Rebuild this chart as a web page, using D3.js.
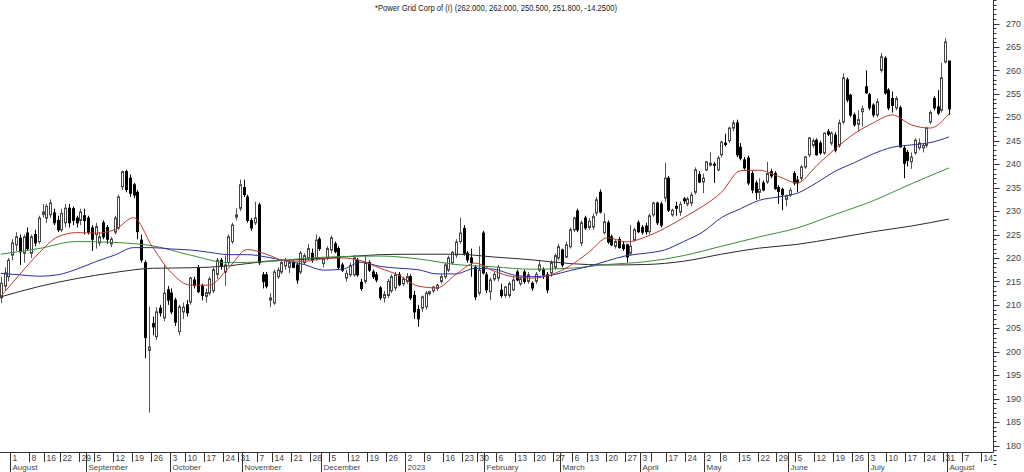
<!DOCTYPE html>
<html>
<head>
<meta charset="utf-8">
<script src="https://cdn.jsdelivr.net/npm/d3@7"></script>
<style>
  body { margin: 0; background: #fff; }
  svg { display: block; font-family: "Liberation Sans", Arial, sans-serif; }
</style>
</head>
<body>
<div id="chart"></div>
<script>
// trading calendar (NSE), weekends and these dates are skipped
var holidays = ["2022-08-09","2022-08-15","2022-08-31","2022-10-05","2022-10-26","2022-11-08",
  "2023-01-26","2023-03-07","2023-03-30","2023-04-04","2023-04-07","2023-04-14","2023-05-01",
  "2023-06-29","2023-08-15"];
var firstDay = "2022-07-27", lastDay = "2023-08-17";

var title = "*Power Grid Corp of (I) (262.000, 262.000, 250.500, 251.800, -14.2500)";
var monthNames = ["January","February","March","April","May","June","July","August","September","October","November","December"];
var hiddenWeekLabels = ["2023-04-10"];

// daily candles [open, high, low, close]
var ohlc = [
  [211.5,216,210.4,214.6],[214,218,213,216.8],[216,220,215,219.5],[220.6,224,219.5,223.2],[222.8,225.5,221.5,224.5],
  [224.2,225,218.5,221.3],[221,225,219,224.5],[225.3,226.5,221.5,222],[221,225,220,224.5],[225,226,222.5,223.2],
  [223.5,229,223,228.5],[229.3,231.5,228.6,229.8],[228.5,231.5,227.5,231],[229.2,232.5,228.5,231.7],[229.6,230.5,227,227.5],
  [228,229,225.5,226],[226,230.5,225.5,229.5],[227.5,231.5,226.5,230.6],[230.6,231.5,226.5,227.5],[230.5,231,227,228],
  [228.5,229,226.5,227.5],[228,230.5,227,229.8],[229,230.5,225,228],[228.5,229,225,225.5],[226.4,227,221.5,224],
  [225,227.5,222,226.7],[223.2,225.5,222.5,224.5],[227.5,228,224,224.5],[226.5,227,223,224],[223,224.5,222.3,224],
  [225.5,229,225,228.5],[226.4,233.5,226,233],[235.2,238.6,234.5,238.4],[238.4,238.8,234,234.6],[237,237.8,233,233.8],
  [235.6,236,232.8,233.4],[234,234.5,224,225.6],[223.8,225,219,219.6],[219,219.5,198.6,203],[200.3,209.6,187,201],
  [206,207.5,203.5,205.3],[203.2,209.5,202.5,208.5],[209.3,210,207.5,208.3],[207.2,218.5,206.5,212.5],[213.2,214,210,211],
  [212.5,213.5,208,208.5],[211,211.5,205.5,206.3],[204.3,210,203.5,209.6],[208.5,210.5,207,209.5],[210,211,207.5,208.3],
  [210.6,216,210,215.7],[215.3,216,213.5,214.2],[217.8,218.5,212.5,212.8],[214,214.5,211,212],[211.8,213.5,210.5,212.6],
  [212.5,216,212,215.5],[213,218,212.5,217.5],[216.5,220,215.5,219.5],[219.5,220,217.5,218.2],[217,220.5,214,218.5],
  [219,225,218.5,224.5],[223.5,227.5,223,227],[228.7,230.6,228,229.2],[230.6,236.7,230,235.6],[235,236.7,233,233.5],
  [233,233.5,227.5,228],[228,228.5,225.8,226.4],[227.5,232,227,228.5],[231.3,231.8,218.5,219],[216.4,217,213.5,215],
  [216.4,217,213.5,214],[211,212.5,209.5,211.5],[210.4,217.5,210,217],[216,218,215.5,217.4],[217,219.5,216.5,219],
  [218.3,220,217.5,219.5],[218,219.5,216.8,219],[219,219.5,217.8,218],[218.5,219,214.5,215.3],[217,221.5,216.5,221],
  [219,221,218.5,220.5],[220,223,219.5,222],[221,222,219,219.6],[220,225,219.5,223.8],[224,224.5,221.5,222],
  [218.8,220,218,219.8],[220,222.5,219.5,222],[221.7,224.8,221,224.3],[223,223.5,221,221.4],[222,222.5,217.5,218],
  [218.5,219,217,217.4],[215.7,217.5,215,216.7],[216.4,219,216,218.4],[216.4,220.6,216,220],[219.5,220,216,216.4],
  [214.8,215.5,213,213.5],[215,220.5,214.5,219],[219,219.5,217,217.4],[217,217.5,215.5,216],[216.4,217,214.8,215.3],
  [213.6,214,211,211.5],[211.5,213,210.5,212.2],[212,215.5,211.5,215],[213,216.5,212.5,216],[213.6,217,213,216.4],
  [216.4,217,214,214.3],[214.5,216,214,215.5],[215,216.8,214.5,216],[216,216.5,211,211.5],[212,213,207,208.5],
  [209,210,205.3,207],[209.3,212,208.5,211.7],[209.6,213,209,212.5],[212.4,213,212,212.8],[213,214,212.5,213.8],
  [213.5,214.5,213,214.2],[215,216.5,214.5,216],[216,219,215.5,218.5],[217.4,220.5,217,220],[219,221.5,218.5,221.2],
  [220.6,224,220,223.4],[223.5,228.6,223,225.3],[226.3,227,220.5,221],[221,221.5,219,219.6],[220,222,216,219],
  [218,218.5,211,211.7],[212.5,222.5,212,217.4],[225.3,225.8,216.5,216.8],[216.4,217,212.5,213.2],[212.8,215.8,211,215.3],
  [215.5,217,215,216.5],[215.7,218.5,215,218],[213.1,214.5,211.5,212],[212,214,211.5,213.8],[212,215,211.5,214.5],
  [213.2,216,213,215.3],[217,217.5,215,215.3],[214.5,216,214,215.5],[217,217.5,214.5,215],[215,217,214.5,216.4],
  [214.6,215,213,213.6],[215,217,214.5,216.5],[217.4,219.5,217,218.5],[217.5,218,215.5,216.4],[216.4,217,212.5,213.2],
  [216.8,219.5,216,219],[218,221,217.5,220.5],[220,223,219.5,222.4],[221.7,222,218,218.5],[220.2,223.5,220,222.8],
  [222.4,226.5,222,226],[226,228.8,225.5,228.5],[230,230.5,225.5,226],[223.2,228,222.5,227.5],[228.5,229,226,226.4],
  [226.5,228.5,226,227.8],[226.6,229.5,226,228.8],[229.6,233,229,232.4],[234,234.6,229.5,229.8],[225.4,229.5,225,227.7],
  [227.5,228,223,223.4],[224.5,225,222.5,222.8],[222.5,224,222,223.5],[223.9,224.5,222,222.2],[222.8,223.5,221.5,222],
  [222.8,223,219,220.2],[221,227,220.5,222.5],[223.8,226.5,223.5,226],[227.5,228,225.3,225.6],[226.5,227,225,225.5],
  [226.8,227.5,225,225.6],[225.6,229.5,225,229],[229.2,232,228.8,231.7],[231.7,232,227,227.5],[231.5,232,226.5,227],
  [232.8,240.3,232,237],[237,237.5,229.8,230.2],[229.2,230.5,228.8,230.2],[231,232,229,230.6],[229.8,232,229,231.4],
  [232.6,233,231.5,232.2],[231.5,233,231,232.6],[231.7,234,231,233.4],[234,239.3,233.5,238.8],[237.8,238.5,236,236.2],
  [236.2,238,233.8,237],[238.8,240.5,238.5,240.5],[239.8,242.5,239.5,240.2],[240,240.5,236,239.8],[238.8,241.8,238.5,241.3],
  [242,245,241.5,244.7],[244.5,246.5,243.8,244.2],[245,248,244.5,247.7],[247.7,249.4,247,248.8],[248.8,249.5,241.5,242],
  [243.6,244.5,240.8,241.3],[240.9,241.5,238.8,239.2],[241.3,241.8,235.5,236],[238,238.5,233.8,234.5],[236,236.5,232.4,234],
  [234,237,232.5,234.6],[236,236.5,234.2,234.5],[236.2,240.5,235.8,238],[238.4,239,237,237.5],[238,238.5,234.5,234.8],
  [235,235.5,231.5,234.2],[234.6,235,230.2,233.5],[232.5,233.5,231,233.2],[233.5,235,233,234.4],[238,238.5,235.5,236],
  [236.6,237.5,234,236],[237,239.8,236.5,239.4],[239.4,241.8,239,241.5],[242,245.8,241.5,245.6],[244,245.5,243.5,245],
  [245.1,245.5,241.8,242],[244.5,245,242,242.4],[242.4,246.8,242,246.6],[246.9,247.5,246,246.4],[244.5,247,244,246.6],
  [246.2,246.8,242.5,243],[244,249.5,243.5,248.8],[249,259.4,248.5,258.4],[258,258.5,253.2,253.7],[254.7,255,250,250.5],
  [250.5,251,248,248.4],[248.5,251.5,247,249.5],[251.2,252.5,248,251.8],[256.5,260,255,255.2],[254.8,255.2,251.5,252],
  [252.6,253,250,250.5],[250.5,254,250,253.3],[260,263.7,259.5,262.9],[262.6,263,254.8,255.2],[255.8,256.2,251.5,252],
  [254,255.5,251,252.5],[252,254.5,251.5,254],[252,252.5,243.5,243.7],[243.4,244,237,240.2],[242.5,243,239.5,240.8],
  [240.5,242.5,239,241.5],[242.4,245.5,242,245.1],[243.5,245.5,243,244.5],[243.5,244.5,242.5,244],[244,248,243.5,247.7],
  [249,251.5,248.5,251],[254,254.5,251.5,252],[252.2,255.8,250.5,250.9],[251.5,261.6,251,258.4],[261.8,266.9,261.5,266.05],
  [262,262,250.5,251.8]
];

// moving averages, one value every 5 (red, blue) or 10 (green, black) sessions
var maRed = [211.8,216.5,221,224.5,225.4,225.3,226,228.6,222.3,216.8,214.2,214.2,217.8,221.8,220.8,219.4,219.3,
  219.8,220,219.4,217.8,216.3,214,213.6,216.5,218.9,217.2,216,215.7,216.4,218.3,221.2,224.3,223.4,224.5,226.3,
  228.6,231,234,238.6,238.7,237.4,236,239.6,243.3,246.5,248.8,250.5,248.4,247.7,250.8];
var maBlue = [216.7,216.4,216.1,216.4,217.6,219.2,220.6,222.2,222.2,221.9,221.7,221.2,220.7,220.7,220.2,219.4,
  218.6,217.4,217.6,219.1,218.2,217.8,217.5,216.6,216.6,217.8,217.6,216.4,216,216.3,217.3,218.2,219.4,220.5,221,
  221.7,223.5,225.5,228.6,230.5,232.3,233,233.8,236,238.5,240.3,242.2,243.6,244.1,244.6,245.8];
var maGreen = [220.8,222,223.5,223.3,222.6,220.6,219,219.2,219.9,220.3,220.4,219.8,218.6,218.1,217.6,217.8,218.6,
  219.2,220.5,222.5,224.5,226.4,229.3,232.2,235.8,239.2];
var maBlack = [211.7,213.9,215.6,216.9,217.8,217.9,218.3,219.3,219.7,220.2,220.7,220.8,220.8,220.2,219.6,218.8,
  218.5,218.6,219.3,220.8,222.1,222.9,224.2,225.6,226.8,228.3];
var yTicks = d3.range(180, 271, 5);

var width = 1024, height = 472;
var axisX = 993.5, axisY = 452.5;

var parse = d3.timeParse("%Y-%m-%d"), fmt = d3.timeFormat("%Y-%m-%d");
var days = d3.timeDay.range(parse(firstDay), d3.timeDay.offset(parse(lastDay), 1))
  .filter(function(d) { return d.getDay() > 0 && d.getDay() < 6 && holidays.indexOf(fmt(d)) < 0; });

var svg = d3.select("#chart").append("svg")
  .attr("width", width).attr("height", height);

var x = d3.scaleBand()
  .domain(d3.range(days.length))
  .range([-1.1, axisX - 0.8])
  .padding(0);
var y = d3.scaleLinear().domain([180, 270]).range([445.5, 23.5]);
function cx(i) { return Math.round(x(i) + x.bandwidth() / 2); }

// title
svg.append("text")
  .attr("x", 496).attr("y", 11)
  .attr("text-anchor", "middle")
  .attr("textLength", 242).attr("lengthAdjust", "spacingAndGlyphs")
  .style("font-size", "9px").style("fill", "#222")
  .text(title);

// price axis on the right
var yAxis = svg.append("g");
yAxis.append("line")
  .attr("x1", axisX).attr("x2", axisX).attr("y1", 0).attr("y2", axisY)
  .attr("stroke", "#333");
yAxis.selectAll(".minor")
  .data(d3.range(176, 276, 1))
  .enter().append("line")
  .attr("x1", axisX).attr("x2", axisX + 3)
  .attr("y1", function(d) { return Math.round(y(d)) + 0.5; })
  .attr("y2", function(d) { return Math.round(y(d)) + 0.5; })
  .attr("stroke", "#333");
yAxis.selectAll(".major")
  .data(yTicks)
  .enter().append("line")
  .attr("x1", axisX).attr("x2", axisX + 6)
  .attr("y1", function(d) { return Math.round(y(d)) + 0.5; })
  .attr("y2", function(d) { return Math.round(y(d)) + 0.5; })
  .attr("stroke", "#333");
yAxis.selectAll("text")
  .data(yTicks)
  .enter().append("text")
  .attr("x", 1006).attr("y", function(d) { return y(d); })
  .attr("dy", "0.35em")
  .style("font-size", "9px").style("fill", "#444")
  .text(function(d) { return d; });

// date axis at the bottom
var xAxis = svg.append("g");
xAxis.append("line")
  .attr("x1", 0).attr("x2", axisX).attr("y1", axisY).attr("y2", axisY)
  .attr("stroke", "#333");

var weekStarts = [], monthStarts = [];
days.forEach(function(d, i) {
  if (i === 0) return;
  var p = days[i - 1];
  if (+d3.timeMonday.floor(d) !== +d3.timeMonday.floor(p)) weekStarts.push(i);
  if (d.getMonth() !== p.getMonth()) monthStarts.push(i);
});
function sepX(i) { return Math.round(x(i)) + 0.5; }

var wk = xAxis.selectAll(".wk").data(weekStarts).enter().append("g");
wk.append("line")
  .attr("x1", sepX).attr("x2", sepX).attr("y1", axisY).attr("y2", 462)
  .attr("stroke", "#333");
wk.filter(function(i) { return hiddenWeekLabels.indexOf(fmt(days[i])) < 0; })
  .append("text")
  .attr("x", function(i) { return sepX(i) + 2; }).attr("y", 461)
  .style("font-size", "8.5px").style("fill", "#444")
  .text(function(i) { return days[i].getDate(); });

var mo = xAxis.selectAll(".mo").data(monthStarts).enter().append("g");
mo.append("line")
  .attr("x1", sepX).attr("x2", sepX).attr("y1", axisY).attr("y2", height)
  .attr("stroke", "#333");
mo.append("text")
  .attr("x", function(i) { return sepX(i) + 2; }).attr("y", 470)
  .style("font-size", "8px").style("fill", "#444")
  .text(function(i) {
    var d = days[i];
    return d.getMonth() === 0 ? d.getFullYear() : monthNames[d.getMonth()];
  });

// candles
var plot = svg.append("g");
var candle = plot.selectAll(".candle")
  .data(ohlc)
  .enter().append("g");
candle.append("line")
  .attr("x1", function(d, i) { return cx(i) + 0.5; })
  .attr("x2", function(d, i) { return cx(i) + 0.5; })
  .attr("y1", function(d) { return y(d[1]); })
  .attr("y2", function(d) { return y(d[2]); })
  .attr("stroke", function(d) { return d[3] >= d[0] ? "#555" : "#000"; });
candle.append("rect")
  .attr("x", function(d, i) { return cx(i) - 0.5; })
  .attr("width", 2)
  .attr("y", function(d) { return y(Math.max(d[0], d[3])); })
  .attr("height", function(d) { return Math.max(1, Math.abs(y(d[0]) - y(d[3]))); })
  .attr("fill", function(d) { return d[3] >= d[0] ? "#fff" : "#000"; })
  .attr("stroke", function(d) { return d[3] >= d[0] ? "#444" : "#000"; });

// moving averages
function drawMA(values, every, color) {
  var line = d3.line()
    .x(function(v, k) { return x(k * every) + x.bandwidth() / 2; })
    .y(function(v) { return y(v); })
    .curve(d3.curveMonotoneX);
  plot.append("path")
    .datum(values)
    .attr("d", line)
    .attr("fill", "none")
    .attr("stroke", color)
    .attr("stroke-width", 1);
}
drawMA(maBlack, 10, "#2b2b2b");
drawMA(maGreen, 10, "#3c8c3c");
drawMA(maBlue, 5, "#2e2e9c");
drawMA(maRed, 5, "#b83a2e");
</script>
</body>
</html>
